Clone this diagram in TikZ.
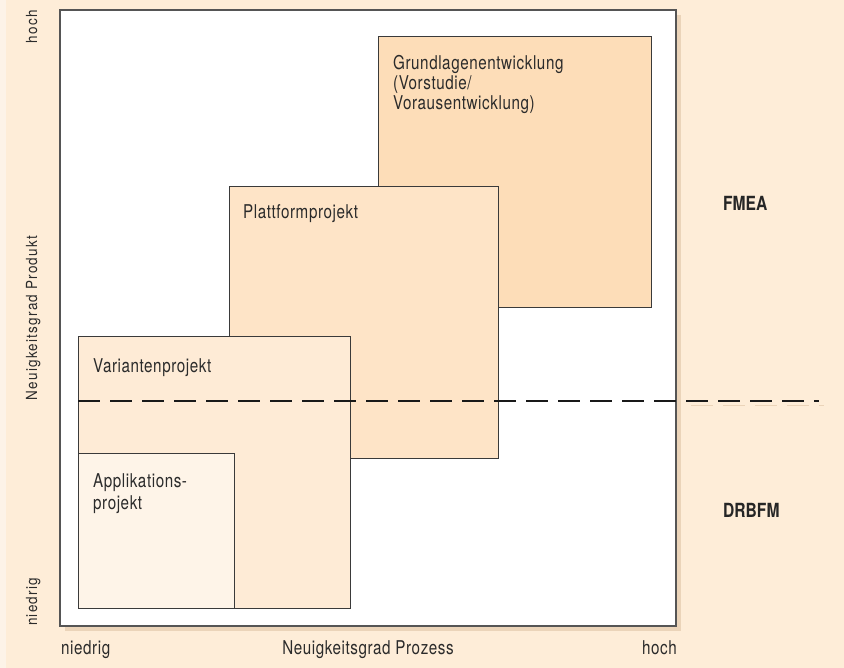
\documentclass[tikz,border=0pt]{standalone}
\usepackage{fontspec}
\setmainfont{TeX Gyre Heros}[FakeStretch=0.8,LetterSpace=3]
\newfontfamily\rotfont{TeX Gyre Heros}[FakeStretch=0.88,LetterSpace=8]
\newfontfamily\methfont{TeX Gyre Heros}[FakeStretch=0.8]
\usetikzlibrary{positioning}

\definecolor{bgpeach}{HTML}{FEEDD8}
\definecolor{stripcol}{HTML}{FDF3E8}
\definecolor{shadowtan}{HTML}{EBD4B9}
\definecolor{framegray}{HTML}{555555}
\definecolor{boxline}{HTML}{3A3A3A}
\definecolor{textgray}{HTML}{2B2B2B}
\definecolor{grundfill}{HTML}{FDDDB8}
\definecolor{platfill}{HTML}{FEE4C7}
\definecolor{varfill}{HTML}{FEEBD6}
\definecolor{applfill}{HTML}{FEF4E8}

\begin{document}
\begin{tikzpicture}[x=1pt, y=-1pt,
  projbox/.style={draw=boxline, line width=1pt, anchor=north west, inner sep=0pt},
  projtext/.style={anchor=north west, inner sep=0pt, align=left, text=textgray,
    font=\fontsize{19}{20}\selectfont},
  axistext/.style={inner sep=0pt, text=textgray, font=\fontsize{19}{20}\selectfont},
  rottext/.style={inner sep=0pt, text=textgray, rotate=90,
    font=\rotfont\fontsize{15.3}{20}\selectfont},
  methtext/.style={inner sep=0pt, anchor=west, text=black!85,
    font=\methfont\bfseries\fontsize{19.5}{20}\selectfont}]
  % background and frame
  \fill[bgpeach] (0,0) rectangle (844,668);
  \useasboundingbox (0,0) rectangle (844,668);
  \fill[stripcol] (0,0) rectangle (6,668);
  \fill[shadowtan] (65,15) rectangle (681,631);
  \draw[framegray, line width=1.3pt, fill=white] (60,10) rectangle (676,626);

  % project boxes
  \node[projbox, fill=grundfill, minimum width=273, minimum height=271] (grund) at (378,36) {};
  \node[projbox, fill=platfill, minimum width=269, minimum height=272] (plat) at (229,186) {};
  \node[projbox, fill=varfill, minimum width=272, minimum height=272] (var) at (78,336) {};
  \node[projbox, fill=applfill, minimum width=156, minimum height=155] (appl) at (78,453) {};

  \node[projtext] (grundlab) at ([shift={(15,19.5)}]grund.north west)
    {Grundlagenentwicklung\\(Vorstudie/\\Vorausentwicklung)};
  \node[projtext] (platlab) at ([shift={(14,18)}]plat.north west) {Plattformprojekt};
  \node[projtext] (varlab) at ([shift={(15,22)}]var.north west) {Variantenprojekt};
  \node[projtext] (appllab) at ([shift={(15,20.5)}]appl.north west)
    {Applikations-\\[1.5pt]projekt};

  % separating line
  \coordinate (dashL) at (78,401);
  \coordinate (dashR) at (819,401);
  \begin{scope}
    \clip (681,0) rectangle (844,668);
    \draw[shadowtan, line width=1.8pt, dash pattern=on 21.5pt off 10.5pt]
      ([shift={(5,4.5)}]dashL) -- ([shift={(5,4.5)}]dashR);
  \end{scope}
  \draw[black!90, line width=2.2pt, dash pattern=on 21.5pt off 10.5pt] (dashL) -- (dashR);

  % methods
  \node[methtext] (fmea) at (723,203.5) {FMEA};
  \node[methtext] (drbfm) at (723,510.5) {DRBFM};

  % axes
  \node[rottext, anchor=base east] (yhigh) at (37,10) {hoch};
  \node[rottext, anchor=base] (ytitle) at (37,318) {Neuigkeitsgrad Produkt};
  \node[rottext, anchor=base west] (ylow) at (37,626) {niedrig};
  \node[axistext, anchor=base west] (xlow) at (61,654) {niedrig};
  \node[axistext, anchor=base] (xtitle) at (368,654) {Neuigkeitsgrad Prozess};
  \node[axistext, anchor=base east] (xhigh) at (677,654) {hoch};
\end{tikzpicture}
\end{document}
